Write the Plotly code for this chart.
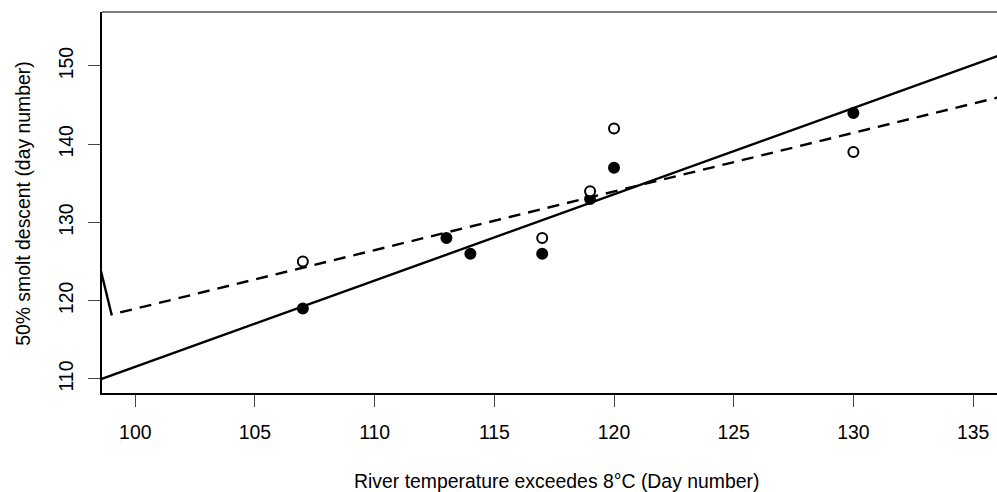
import plotly.graph_objects as go

# Data
filled_x = [107, 113, 114, 117, 119, 120, 130]
filled_y = [119, 128, 126, 126, 133, 137, 144]
open_x = [107, 117, 119, 120, 130]
open_y = [125, 128, 134, 142, 139]

# fitted lines (end points)
solid_fit_x = [98.6, 136.6]
solid_fit_y = [110.0, 151.9]
dashed_fit_x = [99.37, 136.6]
dashed_fit_y = [118.5, 146.4]
stub_x = [98.55, 99.02]
stub_y = [124.0, 118.1]

x_ticks = [100, 105, 110, 115, 120, 125, 130, 135]
y_ticks = [110, 120, 130, 140, 150]

FONT = "Liberation Sans, Arial, sans-serif"
FS = 19.4

fig = go.Figure()
fig.add_trace(go.Scatter(x=solid_fit_x, y=solid_fit_y, mode="lines",
                         line=dict(color="black", width=2.4), hoverinfo="skip"))
fig.add_trace(go.Scatter(x=dashed_fit_x, y=dashed_fit_y, mode="lines",
                         line=dict(color="black", width=2.4, dash="12px,8px"), hoverinfo="skip"))
fig.add_trace(go.Scatter(x=stub_x, y=stub_y, mode="lines",
                         line=dict(color="black", width=2.4), hoverinfo="skip"))
fig.add_trace(go.Scatter(x=filled_x, y=filled_y, mode="markers",
                         marker=dict(symbol="circle", size=10, color="black",
                                     line=dict(color="black", width=2))))
fig.add_trace(go.Scatter(x=open_x, y=open_y, mode="markers",
                         marker=dict(symbol="circle", size=10, color="white",
                                     line=dict(color="black", width=2))))

W, H = 997, 492
ml, mt, mb = 101.7, 12, 99
plot_w = W - ml
plot_h = H - mt - mb

fig.update_layout(
    width=W, height=H,
    margin=dict(l=ml, r=0, t=mt, b=mb, pad=0),
    paper_bgcolor="white", plot_bgcolor="white",
    showlegend=False,
    font=dict(family=FONT, size=FS, color="black"),
    xaxis=dict(range=[98.61, 136.0], tickvals=x_ticks, ticks="outside", ticklen=12,
               tickcolor="#444", tickwidth=1.3, showgrid=False, zeroline=False,
               showline=True, linecolor="black", linewidth=2, mirror=False,
               tickfont=dict(family=FONT, size=FS), ticklabelstandoff=9),
    yaxis=dict(range=[108.2, 156.9], tickvals=y_ticks, ticks="outside", ticklen=12,
               tickcolor="#444", tickwidth=1.3, showgrid=False, zeroline=False,
               showline=True, linecolor="black", linewidth=2, mirror=False,
               tickangle=-90, tickfont=dict(family=FONT, size=FS), ticklabelstandoff=7),
    shapes=[dict(type="line", xref="paper", yref="paper", x0=0, x1=1, y0=1, y1=1,
                 line=dict(color="#555", width=1.5))],
    annotations=[
        dict(text="River temperature exceedes 8°C (Day number)", xref="paper", yref="paper",
             x=(556.5 - ml) / plot_w, y=-(481 - (mt + plot_h)) / plot_h,
             xanchor="center", yanchor="middle", showarrow=False,
             font=dict(family=FONT, size=FS)),
        dict(text="50% smolt descent (day number)", xref="paper", yref="paper",
             x=-(ml - 23) / plot_w, y=1 - (203.5 - mt) / plot_h, textangle=-90,
             xanchor="center", yanchor="middle", showarrow=False,
             font=dict(family=FONT, size=FS)),
    ],
)

fig.write_html("out.html", config={"displayModeBar": False},
               post_script="document.body.style.margin='0px';document.body.style.overflow='hidden';")
